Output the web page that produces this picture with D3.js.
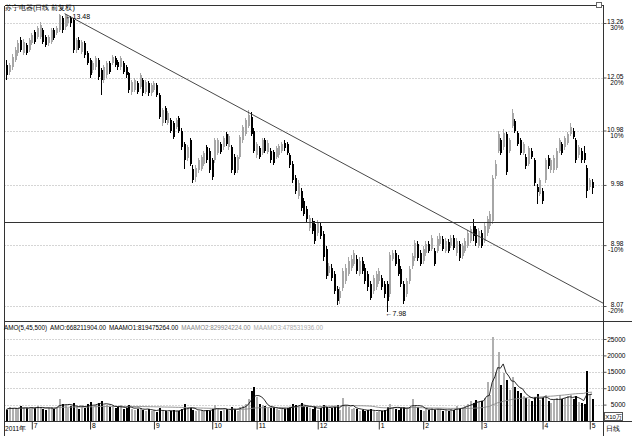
<!DOCTYPE html>
<html><head><meta charset="utf-8">
<script src="https://cdn.jsdelivr.net/npm/d3@7"></script>
<style>body{margin:0;background:#fff}svg{display:block}text{font-family:"Liberation Sans",Arial,sans-serif}</style>
</head><body><svg id="c" width="632" height="436"></svg>
<script>
const opens=[12.31,12.17,12.27,12.42,12.58,12.87,12.58,12.76,12.64,12.80,13.05,12.94,12.94,13.10,12.94,12.80,12.83,13.10,13.03,13.10,13.37,13.17,13.26,13.37,13.33,12.64,12.87,12.60,12.80,12.58,12.42,12.21,12.27,12.42,12.21,11.99,12.10,12.36,12.36,12.47,12.38,12.27,12.36,12.27,12.14,11.74,11.78,11.93,11.85,11.99,11.74,11.93,11.72,11.78,11.89,11.68,11.12,11.42,11.12,11.18,11.12,11.04,11.22,10.98,10.73,10.46,10.79,10.27,10.12,10.24,10.27,10.36,10.66,10.60,10.42,10.42,10.55,10.73,10.66,10.92,10.66,10.66,10.48,10.24,10.48,10.79,10.92,11.06,11.24,10.98,10.51,10.64,10.55,10.79,10.57,10.60,10.57,10.48,10.51,10.60,10.75,10.73,10.51,10.36,10.10,9.78,9.88,9.71,9.57,9.26,9.37,9.32,9.18,9.29,9.16,8.92,8.55,8.63,8.54,8.32,8.19,8.33,8.43,8.54,8.63,8.69,8.77,8.54,8.74,8.63,8.54,8.39,8.29,8.34,8.43,8.48,8.39,8.39,8.24,8.77,8.85,8.77,8.61,8.39,8.24,8.43,8.66,8.78,9.00,8.85,8.74,8.85,9.00,8.92,8.89,8.89,9.00,9.08,8.89,9.03,8.97,9.10,8.85,9.00,8.81,8.89,8.97,9.05,9.29,9.24,8.97,9.18,9.05,9.18,9.29,9.37,10.13,10.60,10.79,10.66,10.92,10.60,11.06,11.16,10.94,10.79,10.55,10.48,10.36,10.60,10.42,9.94,9.83,9.88,10.06,10.46,10.24,10.24,10.29,10.60,10.73,10.66,10.75,10.92,10.98,10.79,10.51,10.60,10.55,10.29,9.94,10.04];
const highs=[12.42,12.36,12.55,12.71,12.87,12.94,12.89,12.80,12.92,13.03,13.10,13.20,13.28,13.15,12.98,12.98,13.15,13.15,13.20,13.46,13.42,13.48,13.45,13.42,13.37,12.92,12.94,12.87,12.85,12.62,12.47,12.40,12.51,12.47,12.25,12.31,12.40,12.40,12.53,12.51,12.42,12.51,12.40,12.31,12.17,11.99,12.04,11.97,12.14,12.04,11.99,11.97,11.93,11.97,11.93,11.72,11.42,11.46,11.36,11.22,11.16,11.22,11.26,11.02,10.77,10.70,10.83,10.33,10.33,10.46,10.52,10.60,10.70,10.64,10.46,10.83,10.83,10.77,10.87,10.96,10.92,10.70,10.53,10.52,10.90,11.08,11.22,11.38,11.34,11.02,10.77,10.68,10.83,10.83,10.79,10.64,10.62,10.68,10.73,10.77,10.79,10.77,10.55,10.40,10.15,10.06,9.92,9.75,9.62,9.47,9.42,9.37,9.39,9.34,9.21,8.97,8.71,8.68,8.58,8.36,8.34,8.62,8.68,8.79,8.82,8.90,8.82,8.79,8.79,8.68,8.58,8.43,8.52,8.58,8.63,8.52,8.43,8.43,8.87,8.90,8.90,8.82,8.66,8.43,8.48,8.66,8.86,9.06,9.04,8.90,8.97,9.05,9.04,9.14,8.94,9.12,9.17,9.12,9.09,9.07,9.14,9.14,9.09,9.04,9.01,9.09,9.22,9.29,9.40,9.29,9.26,9.22,9.34,9.45,9.54,10.15,10.42,10.98,10.83,11.00,10.96,10.83,11.40,11.20,10.98,10.83,10.77,10.53,10.68,10.64,10.46,9.99,10.10,9.92,10.46,10.51,10.46,10.51,10.64,10.83,10.77,10.87,10.96,11.12,11.02,10.83,10.70,10.64,10.69,10.33,10.10,10.08];
const lows=[11.99,12.10,12.21,12.38,12.51,12.60,12.53,12.53,12.60,12.76,12.78,12.90,12.90,12.78,12.71,12.74,12.78,12.87,12.98,13.05,13.03,13.10,13.20,13.17,12.58,12.58,12.64,12.55,12.47,12.31,12.04,12.14,12.21,11.99,11.68,11.93,12.04,12.12,12.31,12.27,12.21,12.21,12.12,12.04,11.72,11.68,11.74,11.70,11.80,11.66,11.70,11.66,11.66,11.74,11.64,11.20,11.06,11.12,11.08,10.94,10.81,11.00,10.94,10.62,10.27,10.40,10.31,10.02,10.04,10.19,10.22,10.31,10.38,10.19,10.06,10.38,10.51,10.53,10.62,10.69,10.62,10.19,10.15,10.19,10.44,10.75,10.88,11.02,10.88,10.55,10.46,10.44,10.51,10.55,10.53,10.38,10.33,10.44,10.46,10.55,10.60,10.51,10.29,10.02,9.83,9.73,9.54,9.45,9.35,9.21,9.16,9.00,9.13,9.08,8.74,8.46,8.50,8.43,8.24,8.09,8.10,8.29,8.39,8.50,8.58,8.66,8.54,8.50,8.54,8.39,8.29,8.15,8.24,8.30,8.39,8.30,8.19,7.98,8.20,8.73,8.65,8.50,8.34,8.10,8.20,8.39,8.61,8.74,8.74,8.65,8.69,8.81,8.85,8.88,8.65,8.85,8.96,8.88,8.85,8.85,8.93,8.90,8.81,8.74,8.77,8.85,8.93,9.01,9.05,8.97,8.93,8.93,9.01,9.13,9.24,9.32,10.08,10.55,10.51,10.62,10.15,10.55,11.02,10.94,10.69,10.51,10.51,10.27,10.31,10.44,9.97,9.66,9.78,9.66,10.02,10.27,10.19,10.19,10.24,10.55,10.51,10.62,10.71,10.88,10.81,10.38,10.46,10.38,10.38,9.75,9.90,9.83];
const closes=[12.10,12.31,12.49,12.64,12.80,12.64,12.82,12.58,12.87,12.98,12.83,13.15,13.22,12.83,12.76,12.94,13.10,12.92,13.15,13.44,13.10,13.44,13.40,13.26,12.64,12.87,12.69,12.83,12.53,12.36,12.10,12.36,12.47,12.06,11.99,12.27,12.36,12.17,12.49,12.31,12.27,12.47,12.17,12.10,11.78,11.95,11.99,11.74,12.10,11.72,11.95,11.72,11.89,11.93,11.68,11.24,11.38,11.18,11.32,10.98,10.85,11.18,10.98,10.66,10.42,10.66,10.36,10.06,10.29,10.42,10.48,10.55,10.42,10.24,10.12,10.79,10.79,10.57,10.83,10.73,10.88,10.24,10.19,10.48,10.85,11.04,11.18,11.28,10.92,10.60,10.73,10.48,10.79,10.60,10.75,10.42,10.38,10.64,10.69,10.73,10.64,10.55,10.33,10.06,9.88,10.01,9.59,9.49,9.40,9.42,9.21,9.05,9.34,9.13,8.79,8.50,8.66,8.48,8.29,8.14,8.29,8.58,8.63,8.74,8.77,8.85,8.58,8.74,8.58,8.43,8.34,8.18,8.48,8.54,8.58,8.34,8.24,8.14,8.83,8.85,8.69,8.54,8.39,8.14,8.43,8.61,8.81,9.02,8.78,8.69,8.92,9.00,8.89,9.10,8.69,9.08,9.13,8.92,9.05,8.89,9.10,8.94,9.05,8.78,8.97,9.05,9.18,9.24,9.13,9.02,9.21,8.97,9.29,9.40,9.49,10.10,10.36,10.92,10.55,10.94,10.21,10.79,11.32,10.98,10.73,10.55,10.73,10.31,10.64,10.48,10.01,9.86,10.06,9.71,10.42,10.31,10.42,10.46,10.60,10.79,10.55,10.83,10.92,11.04,10.86,10.42,10.66,10.42,10.42,9.88,10.06,9.92];
const amounts=[3500,4200,3800,4000,3600,4500,3900,4100,3700,4300,3900,4600,4100,3800,3500,4000,4400,3700,4200,6800,5200,4800,4000,4500,5600,4200,3800,4600,4000,5200,5800,4400,4900,5500,6200,4700,5000,4300,4600,3900,4200,4800,3700,4000,5000,3600,3300,3800,4100,3500,3200,3700,3000,3300,2800,3900,3100,2900,2700,3200,3500,2900,3100,3800,5200,3600,4000,3400,3100,2900,3300,3000,3500,3200,3600,4800,3700,3100,3400,3800,3000,4200,3700,3200,4400,4700,5300,6800,9000,10500,7200,5200,4800,4500,4100,3900,4300,3700,3500,3800,3600,4000,4400,5100,4800,4200,5600,4700,4300,3900,3700,4500,3400,3900,5000,4400,3600,3900,4300,4800,3500,7000,4600,4200,3800,4100,3600,3200,3400,3000,3300,3700,3100,2800,3200,2900,3300,4200,5200,4100,3800,3500,3900,4400,3600,4200,6800,4600,4200,3500,3200,3800,3400,3900,3300,3600,3800,3100,3400,3000,3600,3300,4500,3800,4100,4600,5200,6000,5500,6500,5800,6200,7000,12000,8000,25500,15000,21000,11000,14500,12500,9500,13500,10500,9000,8500,7500,7000,6800,6200,7200,8200,6500,6900,8000,6000,5600,6300,7100,7800,6600,7000,7500,8000,6800,7600,5900,5500,5200,15300,8300,6682];
const monthLabels=["7","8","9","10","11","12","1","2","3","4","5"];
const monthIdx=[9,30,53,74,90,112,134,150,171,193,210];
const priceTicks=[13.26,12.05,10.98,9.98,8.98,8.07];
const pctLabels=["30%","20%","10%","","-10%","-20%"];
const volTicks=[25000,20000,15000,10000,5000];
const highMark={i:21,v:13.48,label:"←13.48"};
const lowMark={i:137,v:7.98,label:"←7.98"};
const levelPrice=9.34;
const trendPts=[[21,13.48],[215,8.11]];
const legendParts=[
 {t:"AMO(5,45,500)",c:"#000"},{t:"AMO:668211904.00",c:"#000"},
 {t:"MAAMO1:819475264.00",c:"#000"},{t:"MAAMO2:829924224.00",c:"#888"},
 {t:"MAAMO3:478531936.00",c:"#aaa"}];

const svg=d3.select("#c");
const N=closes.length;
const x=d3.scaleLinear().domain([0,215]).range([6.3,6.3+2.776*215]);
const yP=d3.scaleLog().domain([8.07,13.26]).range([306,23]);
const yV=d3.scaleLinear().domain([0,25000]).range([421,339]);
const L=4.5,R=603.5,T=5.5,MB=321.5,VB=421.5;
const dark="#333",grayC="#a6a6a6";

svg.append("defs").append("clipPath").attr("id","cp").append("rect").attr("x",L).attr("y",T).attr("width",R-L).attr("height",MB-T);

// grids
const g=svg.append("g");
g.selectAll(".pg").data(priceTicks).join("line").attr("x1",L).attr("x2",R).attr("y1",d=>Math.round(yP(d))+.5).attr("y2",d=>Math.round(yP(d))+.5).attr("stroke","#aaa").attr("stroke-dasharray","1,2");
g.selectAll(".vg").data(volTicks).join("line").attr("x1",L).attr("x2",R).attr("y1",d=>Math.round(yV(d))+.5).attr("y2",d=>Math.round(yV(d))+.5).attr("stroke","#aaa").attr("stroke-dasharray","1,2");

// frame
const fr=svg.append("g").attr("stroke",dark).attr("stroke-width",1).attr("shape-rendering","crispEdges");
fr.append("line").attr("x1",L).attr("x2",R).attr("y1",T).attr("y2",T);
fr.append("line").attr("x1",L).attr("x2",L).attr("y1",T).attr("y2",VB+14);
fr.append("line").attr("x1",R).attr("x2",R).attr("y1",T).attr("y2",436);
fr.append("line").attr("x1",L).attr("x2",632).attr("y1",MB).attr("y2",MB);
fr.append("line").attr("x1",L).attr("x2",632).attr("y1",VB).attr("y2",VB);
svg.append("rect").attr("x",596.5).attr("y",2.5).attr("width",5).attr("height",5).attr("fill","#fff").attr("stroke","#666");

const idx=d3.range(N);
const up=i=>closes[i]>=opens[i];

// candles
const cg=svg.append("g").attr("clip-path","url(#cp)").attr("shape-rendering","crispEdges");
cg.selectAll(".w").data(idx).join("line")
 .attr("x1",i=>Math.round(x(i))+.5).attr("x2",i=>Math.round(x(i))+.5)
 .attr("y1",i=>yP(highs[i])).attr("y2",i=>yP(lows[i]))
 .attr("stroke",i=>up(i)?grayC:"#000");
cg.selectAll(".b").data(idx).join("rect")
 .attr("x",i=>Math.round(x(i))-0.5).attr("width",2)
 .attr("y",i=>yP(Math.max(opens[i],closes[i])))
 .attr("height",i=>Math.max(1,Math.abs(yP(opens[i])-yP(closes[i]))))
 .attr("fill",i=>up(i)?grayC:"#000");

// level & trend lines
cg.append("line").attr("x1",L).attr("x2",R).attr("y1",yP(levelPrice)).attr("y2",yP(levelPrice)).attr("stroke","#333");
svg.append("g").attr("clip-path","url(#cp)").append("line")
 .attr("x1",x(trendPts[0][0])).attr("y1",yP(trendPts[0][1]))
 .attr("x2",x(trendPts[1][0])).attr("y2",yP(trendPts[1][1]))
 .attr("stroke","#333").attr("stroke-width",0.9);

// marks
svg.append("text").attr("x",x(highMark.i)+1).attr("y",yP(highMark.v)+5).attr("font-size",7).attr("fill","#000").text(highMark.label);
svg.append("text").attr("x",x(lowMark.i)-1).attr("y",yP(lowMark.v)+4).attr("font-size",7).attr("fill","#000").text(lowMark.label);

// title
svg.append("text").attr("x",5).attr("y",10).attr("font-size",7.3).attr("font-family","Noto Sans CJK SC").attr("fill","#000").text("苏宁电器(日线 前复权)");

// price axis
const pa=svg.append("g").attr("transform",`translate(${R},0)`).call(d3.axisRight(yP).tickValues(priceTicks).tickSize(3).tickFormat(d3.format(".2f")));
pa.select(".domain").remove();
pa.selectAll("line").attr("stroke","#555");
pa.selectAll("text").attr("x",20).attr("text-anchor","end").attr("dy","0.1em").attr("font-size",6.6).attr("font-family","Liberation Sans").attr("fill","#000");
pa.selectAll(".tick").append("text").attr("x",20).attr("y",6.5).attr("text-anchor","end").attr("font-size",6.6).attr("fill","#000").attr("font-family","Liberation Sans").text((d,i)=>pctLabels[i]);

// volume bars
const vg=svg.append("g").attr("shape-rendering","crispEdges");
vg.selectAll("rect").data(idx).join("rect")
 .attr("x",i=>Math.round(x(i))-0.5).attr("width",2)
 .attr("y",i=>yV(amounts[i])).attr("height",i=>yV(0)-yV(amounts[i]))
 .attr("fill",i=>up(i)?"#b0b0b0":"#000");
// moving averages of amount
function ma(n){return idx.map(i=>{const s=amounts.slice(Math.max(0,i-n+1),i+1);return d3.mean(s);});}
const ln=d3.line().x((d,i)=>x(i)).y(d=>yV(d));
svg.append("path").attr("d",ln(ma(45))).attr("fill","none").attr("stroke","#8a8a8a").attr("stroke-width",0.9);
svg.append("path").attr("d",ln(ma(5))).attr("fill","none").attr("stroke","#111").attr("stroke-width",0.9);

// volume axis
const va=svg.append("g").attr("transform",`translate(${R},0)`).call(d3.axisRight(yV).tickValues(volTicks).tickSize(3).tickFormat(d3.format("d")));
va.select(".domain").remove();
va.selectAll("line").attr("stroke","#555");
va.selectAll("text").attr("x",22).attr("text-anchor","end").attr("font-size",6.6).attr("font-family","Liberation Sans").attr("fill","#000");
svg.append("rect").attr("x",604.5).attr("y",412.5).attr("width",18).attr("height",8).attr("fill","#fff").attr("stroke","#555");
svg.append("text").attr("x",613.5).attr("y",419).attr("text-anchor","middle").attr("font-size",6).attr("font-family","Noto Sans CJK SC").text("X10万");

// legend
const lt=svg.append("text").attr("x",4).attr("y",330).attr("font-size",6.3).attr("font-family","Liberation Sans");
legendParts.forEach((p,k)=>lt.append("tspan").attr("fill",p.c).attr("dx",k?3:0).text(p.t));

// bottom axis
const ba=svg.append("g").attr("transform",`translate(0,${VB})`).call(d3.axisBottom(x).tickValues(monthIdx).tickSize(8).tickFormat((d,i)=>monthLabels[i]));
ba.select(".domain").remove();
ba.selectAll("line").attr("stroke","#333").attr("transform","translate(0.5,0)");
ba.selectAll("text").attr("x",2).attr("y",2).attr("dy","0.71em").attr("text-anchor","start").attr("font-size",6.8).attr("font-family","Liberation Sans").attr("fill","#000");
svg.append("text").attr("x",5).attr("y",430.5).attr("font-size",6.6).attr("font-family","Noto Sans CJK SC").text("2011年");
svg.append("text").attr("x",606).attr("y",431).attr("font-size",7).attr("font-family","Noto Sans CJK SC").text("日线");
</script></body></html>
